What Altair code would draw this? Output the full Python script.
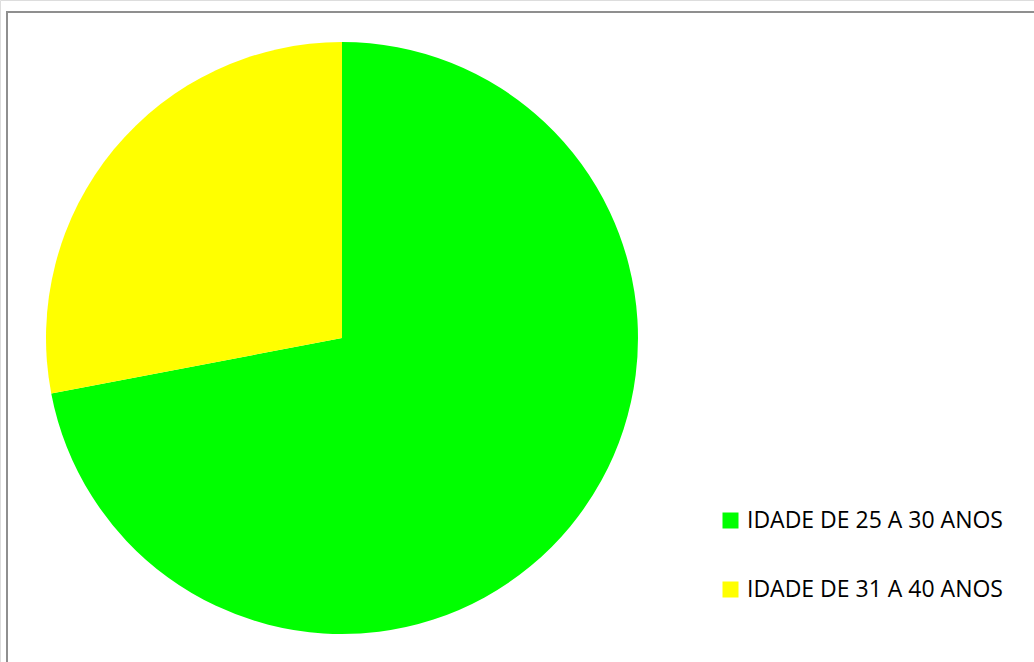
import altair as alt
import pandas as pd

categories = ["IDADE DE 25 A 30 ANOS", "IDADE DE 31 A 40 ANOS"]
values = [18, 7]
colors = ["#00FF00", "#FFFF00"]

df = pd.DataFrame({"faixa": categories, "valor": values, "ordem": [0, 1]})

W, H = 1034, 662

frame = alt.Chart(pd.DataFrame({"a": [0]})).mark_rect(
    fill=None, stroke="#8f8f8f", strokeWidth=2
).encode(
    x=alt.value(7), x2=alt.value(1100), y=alt.value(12), y2=alt.value(720)
)

pie = alt.Chart(df).mark_arc(radius=296).encode(
    theta=alt.Theta("valor:Q", stack=True),
    order=alt.Order("ordem:Q"),
    color=alt.Color(
        "faixa:N",
        scale=alt.Scale(domain=categories, range=colors),
        legend=alt.Legend(
            title=None,
            orient="none",
            legendX=719,
            legendY=509,
            symbolType="square",
            symbolSize=256,
            symbolStrokeWidth=0,
            symbolOpacity=1,
            labelFont="Open Sans",
            labelFontSize=23,
            labelColor="#000000",
            labelOffset=5,
            labelLimit=0,
            rowPadding=45,
            padding=0,
        ),
    ),
    x=alt.value(342),
    y=alt.value(338),
)

chart = alt.layer(frame, pie).properties(
    width=W, height=H, padding=0, autosize=alt.AutoSizeParams(type="none")
).configure_view(stroke=None).configure(background="white")

chart.save("out.html", embed_options={"renderer": "svg", "actions": False})
